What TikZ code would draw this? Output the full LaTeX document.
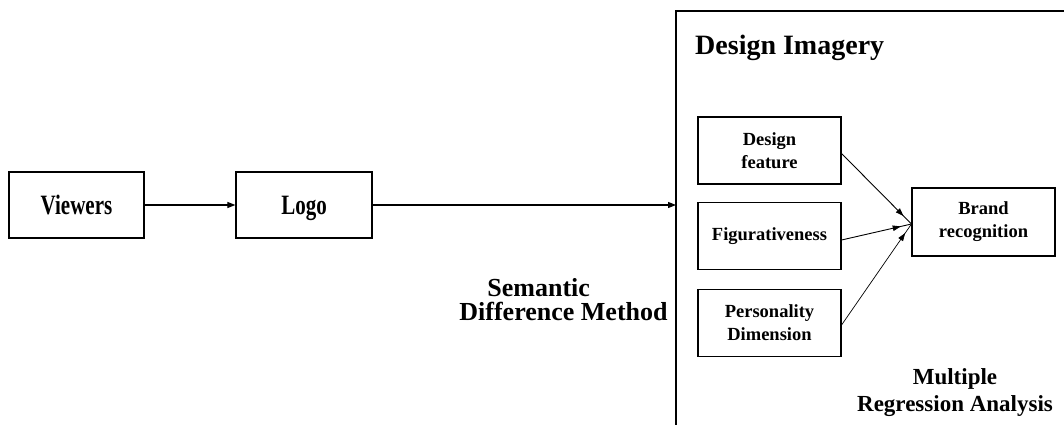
\documentclass[tikz,border=0pt]{standalone}
\usepackage{fontspec}
\setmainfont{Liberation Serif}
\usepackage{graphicx}
\usetikzlibrary{arrows.meta,decorations.markings,calc}

\newcommand{\narrowtext}[1]{\scalebox{0.75}[1]{#1}}

\begin{document}
\begin{tikzpicture}[x=1pt,y=-1pt,
  every node/.style={font=\bfseries},
  mainbox/.style={draw,line width=1.2pt,minimum width=135pt,minimum height=66pt,inner sep=0pt,
    text height=18.5pt,text depth=0pt,
    font=\bfseries\fontsize{28}{30}\selectfont},
  subbox/.style={draw,line width=1.1pt,minimum width=143pt,minimum height=67pt,inner sep=0pt,align=center,
    font=\bfseries\fontsize{18.5}{23}\selectfont},
  flow/.style={line width=1.1pt,-{Triangle[length=8pt,width=6pt]}},
  feed/.style={line width=0.9pt,postaction={decorate},
    decoration={markings,mark=at position -11pt with {\arrow{Triangle[length=8pt,width=5.5pt]}}}},
  caption/.style={inner sep=0pt}
]
\useasboundingbox (0,0) rectangle (1064,425);

% left chain
\node[mainbox] (viewers) at (76.5,205) {\narrowtext{Viewers}};
\node[mainbox,minimum width=136pt] (logo) at (304,205) {\narrowtext{Logo}};

% design imagery frame (runs off the right and bottom edges)
\draw[line width=1.2pt] (1066,11) -- (676,11) -- (676,427);
\coordinate (imagery) at (676,205);
\node[caption,anchor=base west,font=\bfseries\fontsize{28}{30}\selectfont] (title) at (695,55) {Design Imagery};

\draw[flow] (viewers) -- (logo);
\draw[flow] (logo) -- (imagery);

% inner model
\node[subbox] (feature) at (769.5,150.5) {Design\\feature};
\node[subbox] (figur) at (769.5,236) {Figurativeness};
\node[subbox] (person) at (769.5,323) {Personality\\Dimension};
\node[subbox,minimum height=68pt] (brand) at (983.5,222) {Brand\\recognition};

\coordinate (meet) at ($(brand.west)+(0,2)$);
\draw[feed] ($(feature.east)+(0,3)$) -- (meet);
\draw[feed] ($(figur.east)+(0,4)$) -- (meet);
\draw[feed,line width=0.7pt] ($(person.east)+(0,2)$) -- (meet);

% method labels
\node[caption,align=left,font=\bfseries\fontsize{26}{24}\selectfont] (semantic) at (563.5,300)
  {\hspace*{28pt}Semantic\\Difference Method};
\node[caption,align=center,font=\bfseries\fontsize{23}{27}\selectfont] (regress) at (955,393)
  {Multiple\\Regression Analysis};
\end{tikzpicture}
\end{document}
